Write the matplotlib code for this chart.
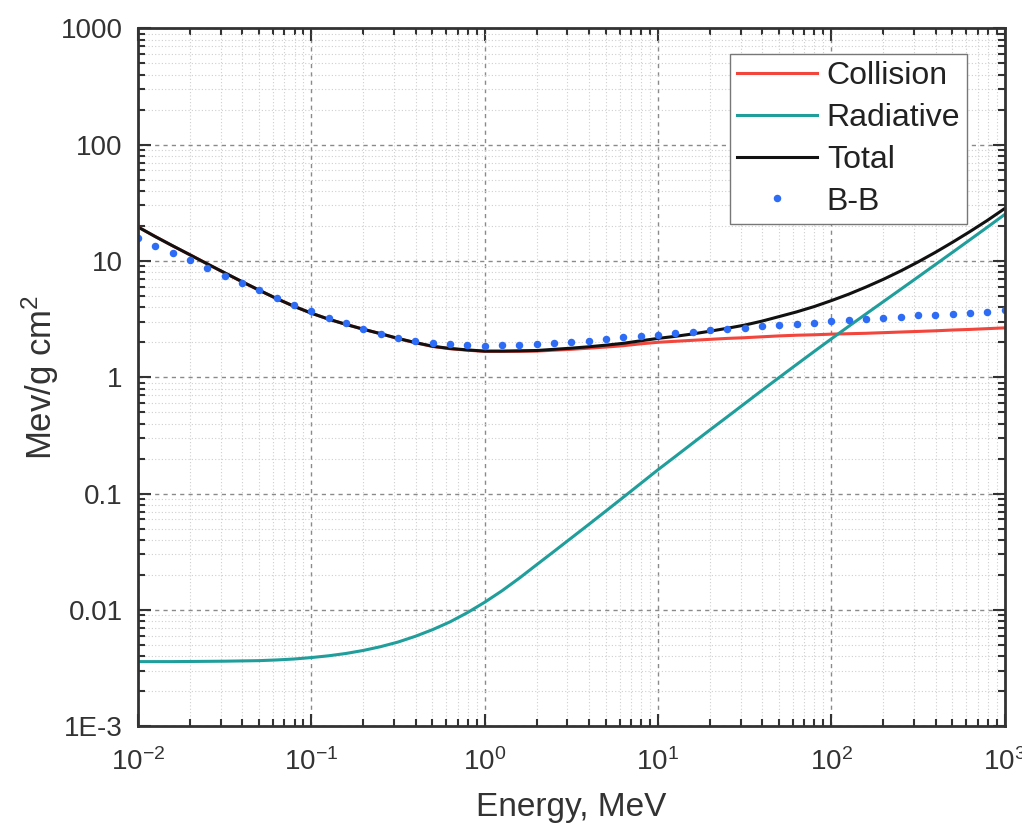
import numpy as np
import matplotlib.pyplot as plt
from matplotlib.ticker import LogLocator, FixedLocator, FixedFormatter, NullFormatter

plt.rcParams['font.family'] = ['Liberation Sans', 'DejaVu Sans']
plt.rcParams['mathtext.default'] = 'regular'

# energy grid, 10 points per decade from 0.01 to 1000 MeV
energy = [10 ** (k / 10) for k in range(-20, 31)]

collision = [19.6, 16.2, 13.5, 11.3, 9.44, 7.91, 6.64, 5.60, 4.75, 4.08,
             3.56, 3.16, 2.85, 2.59, 2.37, 2.15, 1.98, 1.84, 1.76, 1.71,
             1.67, 1.67, 1.67, 1.68, 1.71, 1.74, 1.78, 1.82, 1.87, 1.94,
             2.00, 2.04, 2.08, 2.12, 2.16, 2.19, 2.23, 2.27, 2.30, 2.32,
             2.35, 2.37, 2.39, 2.42, 2.45, 2.48, 2.51, 2.55, 2.58, 2.62,
             2.66]

radiative = [0.00360, 0.00360, 0.00360, 0.00361, 0.00362, 0.00363, 0.00365, 0.00367, 0.00372, 0.00379,
             0.00390, 0.00404, 0.00423, 0.00449, 0.00484, 0.00530, 0.00594, 0.00678, 0.00790, 0.00948,
             0.01165, 0.01462, 0.01877, 0.02449, 0.03187, 0.04159, 0.05426, 0.07099, 0.09309, 0.1222,
             0.1605, 0.2086, 0.2716, 0.3532, 0.4577, 0.5943, 0.7718, 0.9986, 1.290, 1.663,
             2.139, 2.741, 3.503, 4.468, 5.700, 7.273, 9.302, 11.89, 15.22, 19.51,
             25.07]

total = [19.6, 16.2, 13.5, 11.3, 9.44, 7.91, 6.64, 5.60, 4.75, 4.08,
         3.56, 3.16, 2.85, 2.59, 2.37, 2.16, 1.99, 1.85, 1.77, 1.72,
         1.68, 1.68, 1.69, 1.70, 1.74, 1.78, 1.83, 1.89, 1.96, 2.06,
         2.16, 2.25, 2.36, 2.49, 2.64, 2.81, 3.04, 3.33, 3.65, 4.05,
         4.56, 5.18, 5.97, 6.95, 8.20, 9.80, 11.85, 14.5, 17.9, 22.3,
         28.2]

# Bethe-Bloch points on the same grid
bb_value = [15.7, 13.5, 11.8, 10.1, 8.7, 7.5, 6.5, 5.6, 4.85, 4.2,
            3.68, 3.26, 2.93, 2.60, 2.37, 2.18, 2.05, 1.97, 1.92, 1.89,
            1.87, 1.88, 1.90, 1.93, 1.97, 2.02, 2.07, 2.13, 2.20, 2.27,
            2.33, 2.40, 2.47, 2.55, 2.62, 2.68, 2.75, 2.83, 2.89, 2.95,
            3.03, 3.10, 3.17, 3.24, 3.32, 3.40, 3.46, 3.52, 3.58, 3.66,
            3.76]

x_ticks = [1e-2, 1e-1, 1e0, 1e1, 1e2, 1e3]
x_labels = ['$10^{-2}$', '$10^{-1}$', '$10^{0}$', '$10^{1}$', '$10^{2}$', '$10^{3}$']
y_ticks = [1e-3, 1e-2, 1e-1, 1, 10, 100, 1000]
y_labels = ['1E-3', '0.01', '0.1', '1', '10', '100', '1000']

fig, ax = plt.subplots(figsize=(10.22, 8.32), dpi=100)
plt.subplots_adjust(left=0.135, right=0.983, bottom=0.127, top=0.966)

ax.plot(energy, collision, color='#f2463c', lw=2.2, label='Collision')
ax.plot(energy, radiative, color='#1f9e9b', lw=2.2, label='Radiative')
ax.plot(energy, total, color='#111111', lw=2.2, label='Total')
ax.plot(energy, bb_value, ls='none', marker='o', ms=4.4, color='#2e6cf6',
        label='B-B')

ax.set_xscale('log')
ax.set_yscale('log')
ax.set_xlim(1e-2, 1e3)
ax.set_ylim(1e-3, 1e3)

ax.xaxis.set_major_locator(FixedLocator(x_ticks))
ax.xaxis.set_major_formatter(FixedFormatter(x_labels))
ax.yaxis.set_major_locator(FixedLocator(y_ticks))
ax.yaxis.set_major_formatter(FixedFormatter(y_labels))
for axis in (ax.xaxis, ax.yaxis):
    axis.set_minor_locator(LogLocator(base=10, subs=np.arange(2, 10), numticks=100))
    axis.set_minor_formatter(NullFormatter())

ax.grid(which='major', ls=(0, (3, 3)), color='#8a8a8a', lw=1.0)
ax.grid(which='minor', ls=(0, (1, 2)), color='#cfcfcf', lw=0.8)
ax.set_axisbelow(True)

ax.tick_params(which='both', direction='in', top=True, right=True,
               width=1.5, color='#333333', labelsize=20, labelcolor='#333333')
ax.tick_params(which='major', length=9, pad=11)
ax.tick_params(axis='x', which='major', pad=16)
ax.tick_params(which='minor', length=5)
for s in ax.spines.values():
    s.set_linewidth(2)
    s.set_color('#333333')

ax.set_xlabel('Energy, MeV', fontsize=24, color='#333333', labelpad=11)
ax.set_ylabel('Mev/g cm$^2$', fontsize=25, color='#333333', labelpad=0)

leg = ax.legend(loc='upper right', bbox_to_anchor=(0.957, 0.963), fontsize=23,
                fancybox=False, edgecolor='#777777', framealpha=1, handlelength=2.5,
                labelspacing=0.37, borderpad=0.22, handletextpad=0.3, numpoints=1,
                borderaxespad=0)
leg.get_frame().set_linewidth(1.0)
for t in leg.get_texts():
    t.set_color('#222222')

plt.savefig('out.png', dpi=100)
